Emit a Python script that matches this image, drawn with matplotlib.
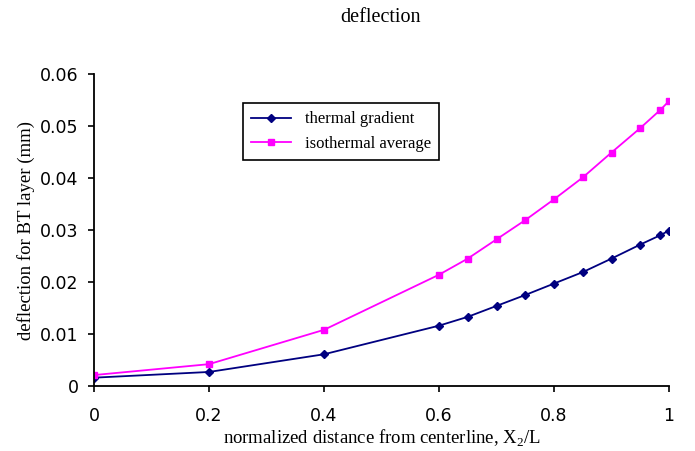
import matplotlib
matplotlib.use('Agg')
from matplotlib import pyplot as plt

# values
x_vals = [0, 0.2, 0.4, 0.6, 0.65, 0.7, 0.75, 0.8, 0.85, 0.9, 0.95, 0.985, 1.0]
thermal_gradient = [0.0016, 0.0027, 0.0061, 0.0116, 0.0133, 0.0154, 0.0175,
                    0.0197, 0.0219, 0.0245, 0.0272, 0.0290, 0.0299]
isothermal_average = [0.0021, 0.0042, 0.0108, 0.0214, 0.0245, 0.0282, 0.0319,
                      0.0359, 0.0401, 0.0449, 0.0496, 0.0531, 0.0548]
x_ticks = [0, 0.2, 0.4, 0.6, 0.8, 1]
x_tick_labels = ['0', '0.2', '0.4', '0.6', '0.8', '1']
y_ticks = [0, 0.01, 0.02, 0.03, 0.04, 0.05, 0.06]
y_tick_labels = ['0', '0.01', '0.02', '0.03', '0.04', '0.05', '0.06']

SERIF = 'Liberation Serif'
plt.rcParams['mathtext.fontset'] = 'custom'
plt.rcParams['mathtext.rm'] = SERIF

fig = plt.figure(figsize=(6.95, 4.51), dpi=100)
ax = fig.add_axes([94 / 695, 65 / 451, 575 / 695, 312 / 451])

ax.plot(x_vals, thermal_gradient, color='#000080', marker='D', markersize=4.5,
        linewidth=1.3, label='thermal gradient')
ax.plot(x_vals, isothermal_average, color='#FF00FF', marker='s', markersize=5,
        linewidth=1.3, label='isothermal average')

ax.set_xlim(0, 1)
ax.set_ylim(0, 0.06)
ax.set_xticks(x_ticks)
ax.set_xticklabels(x_tick_labels, fontfamily='DejaVu Sans', fontsize=12.5)
ax.set_yticks(y_ticks)
ax.set_yticklabels(y_tick_labels, fontfamily='DejaVu Sans', fontsize=12.5)
ax.tick_params(direction='out', length=4, width=1.2)
ax.tick_params(axis='x', pad=11)
ax.tick_params(axis='y', pad=7)
ax.spines['top'].set_visible(False)
ax.spines['right'].set_visible(False)
ax.spines['left'].set_linewidth(1.3)
ax.spines['bottom'].set_linewidth(1.3)
ax.spines['bottom'].set_bounds(0, 1)

ax.set_xlabel('normalized distance from centerline, X$_2$/L',
              fontfamily=SERIF, fontsize=13.5, labelpad=2)
ax.set_ylabel('deflection for BT layer (mm)', fontfamily=SERIF, fontsize=13.5,
              labelpad=4)
fig.text(381 / 695, 1 - 18 / 451, 'deflection', fontfamily=SERIF, fontsize=14.5,
         ha='center', va='center')

leg = ax.legend(loc='upper left', bbox_to_anchor=(0.259, 0.907),
                borderaxespad=0, fancybox=False, framealpha=1,
                edgecolor='black', prop={'family': SERIF, 'size': 12},
                handlelength=2.4, borderpad=0.5, labelspacing=0.5)
leg.get_frame().set_linewidth(1.2)

fig.savefig('out.png', dpi=100)
